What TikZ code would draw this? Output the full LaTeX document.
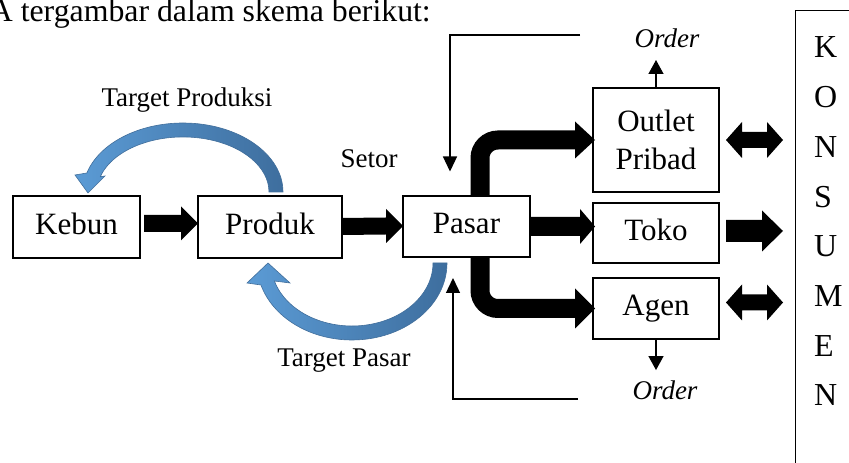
\documentclass[tikz,border=0pt]{standalone}
\usepackage{fontspec}
\setmainfont{Liberation Serif}
\usetikzlibrary{calc,arrows.meta}
\definecolor{bluelite}{RGB}{91,155,213}
\definecolor{bluedark}{RGB}{62,110,158}
\definecolor{blueedge}{RGB}{65,110,155}

% block arrow pointing right: #1 tail, #2 tip, #3 shaft half width, #4 head half width, #5 head length
\newcommand\fatarr[5]{%
  \fill ($(#1)+(0,#3)$) -- ($(#2)+(-#5,#3)$) -- ($(#2)+(-#5,#4)$) -- (#2)
     -- ($(#2)+(-#5,-#4)$) -- ($(#2)+(-#5,-#3)$) -- ($(#1)+(0,-#3)$) -- cycle;}
% block arrow with a head at both ends
\newcommand\dblarr[5]{%
  \fill (#1) -- ($(#1)+(#5,#4)$) -- ($(#1)+(#5,#3)$) -- ($(#2)+(-#5,#3)$)
     -- ($(#2)+(-#5,#4)$) -- (#2) -- ($(#2)+(-#5,-#4)$) -- ($(#2)+(-#5,-#3)$)
     -- ($(#1)+(#5,-#3)$) -- ($(#1)+(#5,-#4)$) -- cycle;}
% arrow head only: #1 tip, #2 half width, #3 length
\newcommand\headR[3]{%
  \fill ($(#1)+(-#3,#2)$) -- (#1) -- ($(#1)+(-#3,-#2)$) -- cycle;}

\begin{document}
\begin{tikzpicture}[x=1pt,y=1pt,
  box/.style={draw, line width=1.2pt, inner sep=0pt, outer sep=0pt,
              font=\fontsize{31}{38}\selectfont},
  oneline/.style={text height=21.5pt, text depth=6.5pt},
  thinarrow/.style={line width=1.3pt, -{Triangle[width=14pt,length=15pt]}},
  orderarrow/.style={line width=1.3pt, -{Triangle[width=15pt,length=14pt]}},
  lbl/.style={font=\fontsize{27}{32}\selectfont, inner sep=0pt, anchor=base},
  ordertext/.style={font=\fontsize{27}{32}\selectfont\itshape, inner sep=0pt, anchor=base},
  curved/.style={left color=bluelite, right color=bluedark, draw=blueedge, line width=0.6pt},
  bent/.style={line width=19pt, rounded corners=18pt},
]
\useasboundingbox (0,0) rectangle (849,463);

% introductory sentence
\node[font=\fontsize{31.8}{38}\selectfont, anchor=base east, inner sep=0pt] (intro)
  at (431,441) {A tergambar dalam skema berikut:};

% main chain
\node[box, oneline, minimum width=127pt, minimum height=62pt] (kebun)  at (76.5,236) {Kebun};
\node[box, oneline, minimum width=144pt, minimum height=62pt] (produk) at (270,236)  {Produk};
\node[box, oneline, minimum width=127pt, minimum height=61pt] (pasar)  at (466.5,236.5) {Pasar};

% outlets
\node[box, align=center, minimum width=126pt, minimum height=104pt] (outlet) at (656,323) {Outlet\\Pribad};
\node[box, oneline, minimum width=126pt, minimum height=60pt] (toko) at (656,230)   {Toko};
\node[box, oneline, minimum width=126pt, minimum height=61pt] (agen) at (656,154.5) {Agen};

% consumer column
\node[draw, line width=1.2pt, inner sep=0pt, minimum width=200pt, minimum height=520pt,
      anchor=north west] (konsumen) at (795,453) {};
\foreach \l [count=\i from 0] in {K,O,N,S,U,M,E,N}
  \node[font=\fontsize{32}{38}\selectfont, inner sep=0pt, anchor=base west] (kl\i)
    at (814,{405-49.7*\i}) {\l};

% block arrows along the chain
\coordinate (a1s) at ($(kebun.east)+(4,3.5)$);
\coordinate (a1e) at ($(produk.west)+(0,3.5)$);
\fatarr{a1s}{a1e}{8.5}{17}{17}
\coordinate (a2s) at ($(produk.east)+(0,0.5)$);
\coordinate (a2e) at ($(pasar.west)+(0,0.5)$);
\fatarr{a2s}{a2e}{8.5}{17}{17}
\coordinate (a3e) at ($(toko.west |- pasar.east)+(2,0)$);
\fatarr{pasar.east}{a3e}{9.5}{17.5}{15}

% bent block arrows from Pasar
\coordinate (tipO) at ($(outlet.west)+(2,0)$);
\coordinate (tipA) at ($(agen.west)+(2,0)$);
\draw[bent] ($(pasar.north)+(13.5,0)$) |- ($(tipO)+(-19.5,0)$);
\headR{tipO}{18.5}{20}
\draw[bent] ($(pasar.south)+(13.5,0)$) |- ($(tipA)+(-19.5,0)$);
\headR{tipA}{20}{20}

% arrows to the consumers
\coordinate (d1s) at ($(outlet.east)+(7,0)$);
\coordinate (d1e) at ($(outlet.east -| konsumen.west)+(-12,0)$);
\dblarr{d1s}{d1e}{8}{18}{16}
\coordinate (d2s) at ($(toko.east)+(7,2)$);
\coordinate (d2e) at ($(toko.east -| konsumen.west)+(-12,2)$);
\fatarr{d2s}{d2e}{11}{20.5}{21}
\coordinate (d3s) at ($(agen.east)+(7,6)$);
\coordinate (d3e) at ($(agen.east -| konsumen.west)+(-12,6)$);
\dblarr{d3s}{d3e}{8}{18}{16}

% orders
\node[ordertext] (orderT) at (667,415) {Order};
\node[ordertext] (orderB) at (665,63)  {Order};
\draw[orderarrow] (outlet.north) -- ($(outlet.north |- orderT.base)+(0,-12)$);
\draw[orderarrow] (agen.south) -- ($(agen.south |- orderB.north)+(0,11)$);

% feedback lines into Pasar
\coordinate (fbT) at (580,428);
\coordinate (fbB) at (578,64);
\draw[thinarrow] (fbT) -| ($(pasar.north)+(-16.5,24.5)$);
\draw[thinarrow] (fbB) -| ($(pasar.south)+(-13.5,-21)$);

% curved target arrows
\path[curved] (283,271) arc[start angle=0, end angle=164, x radius=100, y radius=69]
  -- (75,288) -- (88,270) -- (105,287) -- (100.3,286.2)
  arc[start angle=164, end angle=0, x radius=86, y radius=55] -- cycle;
\path[curved] (447,200) arc[start angle=0, end angle=-163.4, x radius=95, y radius=77]
  -- (247,180) -- (268,200) -- (290,180) -- (274.4,182)
  arc[start angle=-163.4, end angle=0, x radius=81, y radius=63] -- cycle;

% labels
\node[lbl] (tprod) at (187,356) {Target Produksi};
\node[lbl] (tpas)  at (344,96)  {Target Pasar};
\node[lbl] (setor) at (369,295) {Setor};
\end{tikzpicture}
\end{document}
